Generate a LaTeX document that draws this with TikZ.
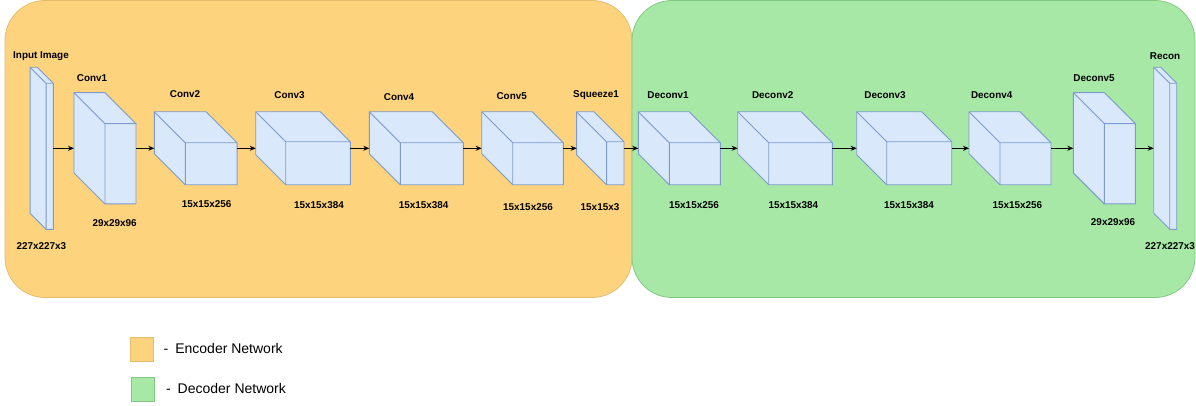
\documentclass[tikz,border=0pt]{standalone}
\usepackage{fontspec}
\setmainfont{Liberation Sans}
\usetikzlibrary{calc,arrows.meta}

\definecolor{encfill}{RGB}{253,211,126}
\definecolor{encdraw}{RGB}{226,188,108}
\definecolor{decfill}{RGB}{167,232,167}
\definecolor{decdraw}{RGB}{128,200,128}
\definecolor{cubefill}{RGB}{218,232,252}
\definecolor{cubedraw}{RGB}{124,154,204}

\tikzset{every picture/.style={line width=0.75pt}}
\tikzset{
  blk/.style={inner sep=0pt, outer sep=0pt, draw=none},
  cubeface/.style={draw=cubedraw, fill=cubefill, line width=0.9pt, line join=round},
  lbl/.style={font=\bfseries\fontsize{9.9}{11}\selectfont, inner sep=0.75pt},
  legtxt/.style={font=\fontsize{14}{16}\selectfont, inner sep=0pt, anchor=west},
  flow/.style={-{Stealth[length=6pt,width=5pt]}, line width=0.9pt}
}

% name, centre x, centre y, width, height, depth
\newcommand{\cubeat}[6]{%
  \node[blk, minimum width=#4pt, minimum height=#5pt] (#1) at (#2,#3) {};
  \draw[cubeface] (#1.north west) -- ($(#1.north east)+(-#6,0)$) -- ($(#1.north east)+(0,#6)$)
    -- (#1.south east) -- ($(#1.south west)+(#6,0)$) -- ($(#1.south west)+(0,-#6)$) -- cycle;
  \draw[cubeface, fill=none] ($(#1.north east)+(0,#6)$) -- ($(#1.north west)+(#6,#6)$) -- ($(#1.south west)+(#6,0)$)
    ($(#1.north west)+(#6,#6)$) -- (#1.north west);
}

\begin{document}
\begin{tikzpicture}[x=1pt,y=1pt,yscale=-1,xscale=1]
\useasboundingbox (0,0) rectangle (1196,406);

% network regions
\draw [draw=encdraw, fill=encfill, rounded corners=40pt] (5,0.5) rectangle (632,297.5);
\draw [draw=decdraw, fill=decfill, rounded corners=40pt] (632,0.5) rectangle (1195,297.5);

% layers
\cubeat{in}{41.7}{148.3}{23.3}{162}{16}
\cubeat{c1}{105}{148.3}{62}{111.3}{31}
\cubeat{c2}{195.7}{148.3}{82.7}{73}{31}
\cubeat{c3}{303}{148.3}{94.6}{73}{30}
\cubeat{c4}{416.3}{148.3}{94}{73}{31}
\cubeat{c5}{522.5}{148.3}{81.6}{73}{31}
\cubeat{sq}{600.3}{148.3}{47.3}{73}{30}
\cubeat{d1}{679.3}{148.3}{82}{73}{31}
\cubeat{d2}{785}{148.3}{94.6}{73}{31}
\cubeat{d3}{904.2}{148.3}{95}{73}{30}
\cubeat{d4}{1010}{148.3}{82}{73}{31}
\cubeat{d5}{1104.3}{148.3}{62}{111.3}{31}
\cubeat{rc}{1165.2}{148.3}{23}{162}{16}

\draw [flow] (in) -- (c1);
\draw [flow] (c1) -- (c2);
\draw [flow] (c2) -- (c3);
\draw [flow] (c3) -- (c4);
\draw [flow] (c4) -- (c5);
\draw [flow] (c5) -- (sq);
\draw [flow] (sq) -- (d1);
\draw [flow] (d1) -- (d2);
\draw [flow] (d2) -- (d3);
\draw [flow] (d3) -- (d4);
\draw [flow] (d4) -- (d5);
\draw [flow] (d5) -- (rc);

% layer names
\node [lbl] (nin) at (41,56) {Input Image};
\node [lbl] (nc1) at (92,77.7) {Conv1};
\node [lbl] (nc2) at (185,94.3) {Conv2};
\node [lbl] (nc3) at (289.5,95) {Conv3};
\node [lbl] (nc4) at (399,96.7) {Conv4};
\node [lbl] (nc5) at (511.7,96) {Conv5};
\node [lbl] (nsq) at (596,95.3) {Squeeze1};
\node [lbl] (nd1) at (668,95) {Deconv1};
\node [lbl] (nd2) at (772.7,95) {Deconv2};
\node [lbl] (nd3) at (885,95) {Deconv3};
\node [lbl] (nd4) at (991.7,95) {Deconv4};
\node [lbl] (nd5) at (1094,77.7) {Deconv5};
\node [lbl] (nrc) at (1165,56) {Recon};

% layer sizes
\node [lbl] (sin) at (41.3,245.7) {227x227x3};
\node [lbl] (sc1) at (114.7,223.3) {29x29x96};
\node [lbl] (sc2) at (206.7,204.3) {15x15x256};
\node [lbl] (sc3) at (319,205) {15x15x384};
\node [lbl] (sc4) at (423.7,205) {15x15x384};
\node [lbl] (sc5) at (528,207.3) {15x15x256};
\node [lbl] (ssq) at (600,207.3) {15x15x3};
\node [lbl] (sd1) at (694,205) {15x15x256};
\node [lbl] (sd2) at (793.3,205) {15x15x384};
\node [lbl] (sd3) at (909,205) {15x15x384};
\node [lbl] (sd4) at (1017.3,205) {15x15x256};
\node [lbl] (sd5) at (1113,222.3) {29x29x96};
\node [lbl] (src) at (1170,245.7) {227x227x3};

% legend
\node [draw=encdraw, fill=encfill, minimum width=23pt, minimum height=24pt, inner sep=0pt] (kenc) at (141.7,349.5) {};
\node [draw=decdraw, fill=decfill, minimum width=23pt, minimum height=24pt, inner sep=0pt] (kdec) at (143,389.2) {};
\node [legtxt] (tenc) at (163.3,348.3) {-\hspace{7pt}Encoder Network};
\node [legtxt] (tdec) at (165.7,388.3) {-\hspace{7pt}Decoder Network};

\end{tikzpicture}
\end{document}
